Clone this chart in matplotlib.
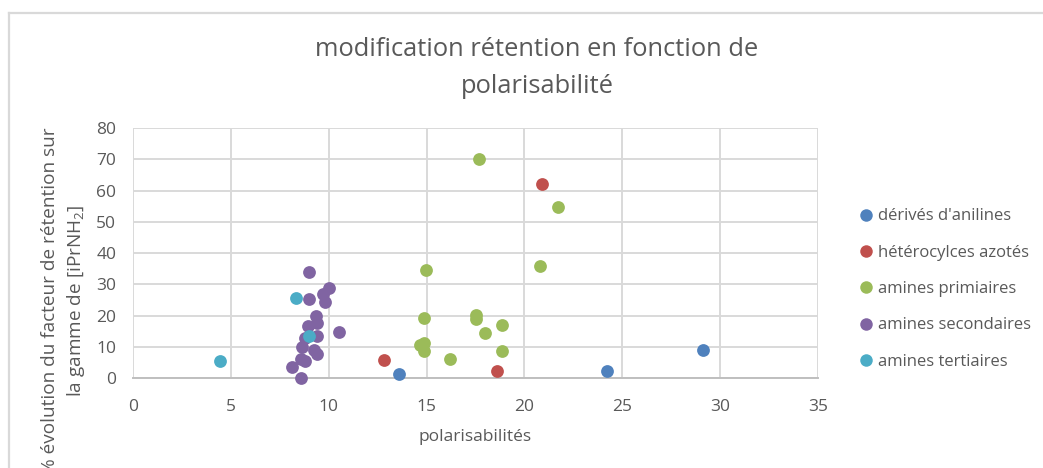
import matplotlib
matplotlib.use("Agg")
import matplotlib.pyplot as plt
from matplotlib.lines import Line2D

plt.rcParams['font.family'] = ['Open Sans', 'DejaVu Sans']
plt.rcParams['mathtext.fontset'] = 'custom'
plt.rcParams['mathtext.rm'] = 'Open Sans'
plt.rcParams['mathtext.it'] = 'Open Sans'

gris = "#595959"

# polarisabilite (x) et % evolution du facteur de retention (y) par famille
anilines_x = [13.6, 24.2, 29.1]
anilines_y = [1.3, 2.3, 9.0]

heterocycles_x = [12.8, 18.6, 20.9]
heterocycles_y = [6.0, 2.4, 62.0]

primaires_x = [17.7, 21.7, 14.95, 20.8, 14.85, 17.5, 17.5, 18.85, 18.0, 14.65, 14.85, 14.85, 18.85, 16.2]
primaires_y = [70.0, 54.8, 34.7, 36.0, 19.4, 20.3, 19.0, 17.1, 14.5, 10.7, 11.4, 8.8, 8.7, 6.3]

secondaires_x = [9.0, 10.0, 9.0, 9.7, 9.8, 9.35, 9.4, 8.95, 8.8, 9.4, 8.65, 9.25, 9.4, 8.6, 8.8, 8.1, 8.6, 10.55]
secondaires_y = [34.0, 29.0, 25.5, 27.0, 24.3, 19.8, 17.6, 16.6, 12.9, 13.4, 10.0, 8.9, 7.8, 6.3, 5.5, 3.7, 0.0, 14.7]

tertiaires_x = [4.45, 8.35, 9.0]
tertiaires_y = [5.6, 25.8, 13.6]

series = [
    ("dérivés d'anilines", anilines_x, anilines_y, "#4F81BD"),
    ("hétérocylces azotés", heterocycles_x, heterocycles_y, "#C0504D"),
    ("amines primiaires", primaires_x, primaires_y, "#9BBB59"),
    ("amines secondaires", secondaires_x, secondaires_y, "#8064A2"),
    ("amines tertiaires", tertiaires_x, tertiaires_y, "#4BACC6"),
]

fig = plt.figure(figsize=(10.43, 4.68), dpi=100)
ax = fig.add_axes([133 / 1043, 1 - 378.3 / 468, 685 / 1043, 250.2 / 468])

for nom, xs, ys, couleur in series:
    ax.plot(xs, ys, linestyle="none", marker="o", markersize=9.2,
            color=couleur, markeredgewidth=0, label=nom, clip_on=False, zorder=3)

ax.set_xlim(0, 35)
ax.set_ylim(0, 80)
ax.set_xticks(range(0, 36, 5))
ax.set_yticks(range(0, 81, 10))
ax.grid(True, color="#D9D9D9", linewidth=1.4)
ax.set_axisbelow(True)
for side in ["top", "right", "left"]:
    ax.spines[side].set_visible(False)
ax.spines["bottom"].set_color("#BFBFBF")
ax.spines["bottom"].set_linewidth(1.4)
ax.tick_params(length=0, labelsize=12.5, labelcolor=gris)
ax.tick_params(axis="x", pad=15)
ax.tick_params(axis="y", pad=12)

ax.set_xlabel("polarisabilités", fontsize=12.5, color=gris, labelpad=10)

fig.text(64 / 1043, 1 - 301 / 468,
         "% évolution du facteur de rétention sur\nla gamme de [iPrNH$_2$]",
         rotation=90, ha="center", va="center", multialignment="center",
         fontsize=13.7, color=gris, linespacing=1.34)

fig.text(537 / 1043, 1 - 68 / 468,
         "modification rétention en fonction de\npolarisabilité",
         ha="center", va="center", multialignment="center",
         fontsize=18.4, color=gris, linespacing=1.58)

poignees = [Line2D([], [], linestyle="none", marker="o", markersize=9,
                   color=c, markeredgewidth=0) for _, _, _, c in series]
fig.legend(poignees, [s[0] for s in series], loc="center left",
           bbox_to_anchor=(851 / 1043, 1 - 289 / 468), frameon=False,
           fontsize=12, labelcolor=gris, handlelength=0.8, handletextpad=0.3,
           labelspacing=1.22, borderpad=0)

# cadre du graphique
fig.add_artist(Line2D([9 / 1043, 1], [1 - 13 / 468, 1 - 13 / 468],
                      color="#D9D9D9", linewidth=1.6))
fig.add_artist(Line2D([9 / 1043, 9 / 1043], [0, 1 - 13 / 468],
                      color="#D9D9D9", linewidth=1.6))

fig.savefig("out.png", dpi=100, facecolor="white")
